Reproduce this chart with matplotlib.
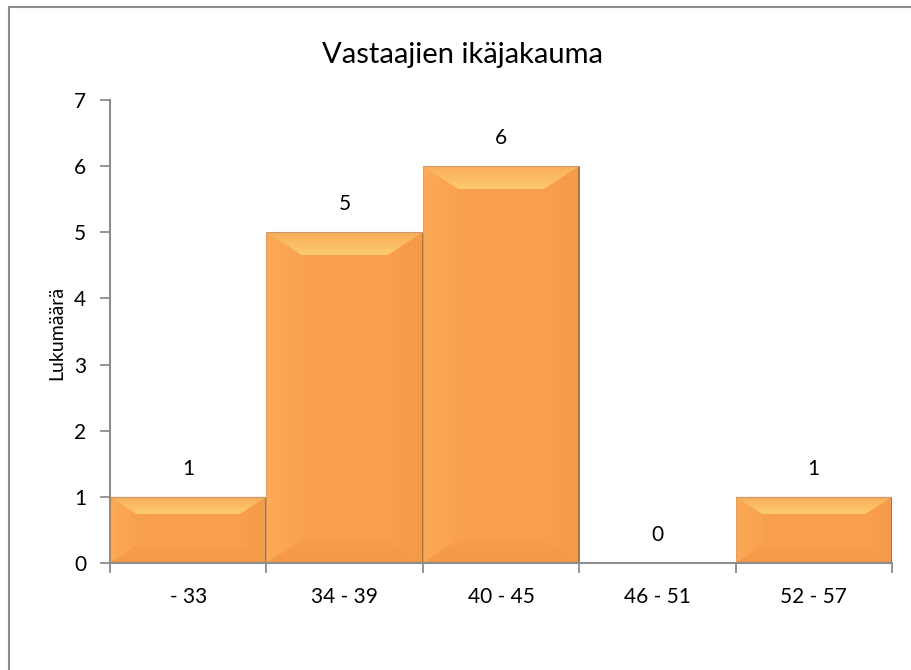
import matplotlib
matplotlib.use("Agg")
import matplotlib.pyplot as plt
from matplotlib.patches import Polygon, Rectangle
from matplotlib.colors import LinearSegmentedColormap
import numpy as np

categories = ["- 33", "34 - 39", "40 - 45", "46 - 51", "52 - 57"]
values = [1, 5, 6, 0, 1]
yticks = [0, 1, 2, 3, 4, 5, 6, 7]
title = "Vastaajien ikäjakauma"
ylabel = "Lukumäärä"

plt.rcParams['font.family'] = ['Lato', 'DejaVu Sans']

fig = plt.figure(figsize=(9.11, 6.70), dpi=100)
ax = fig.add_axes([110/911, 1-563/670, (892-110)/911, (563-100)/670])

x = np.arange(len(categories))
bars = ax.bar(x, values, width=1.0, color="#F9A04E", edgecolor="none", zorder=2)
ax.set_xlim(-0.5, len(categories)-0.5)
ax.set_ylim(0, 7)

fig.canvas.draw()
inv = ax.transData.inverted()
def px2data(dx, dy):
    p0 = inv.transform((0, 0))
    p1 = inv.transform((dx, dy))
    return p1[0]-p0[0], p1[1]-p0[1]

def grad_poly(pts, c_a, c_b, vertical=True, z=3):
    poly = Polygon(pts, closed=True, facecolor="none", edgecolor="none")
    ax.add_patch(poly)
    xs = [p[0] for p in pts]; ys = [p[1] for p in pts]
    cmap = LinearSegmentedColormap.from_list("g", [c_a, c_b])
    g = np.linspace(0, 1, 64)
    arr = g.reshape(-1, 1) if vertical else g.reshape(1, -1)
    im = ax.imshow(arr, cmap=cmap, extent=(min(xs), max(xs), max(ys), min(ys)) if vertical
                   else (min(xs), max(xs), min(ys), max(ys)),
                   origin="upper", aspect="auto", zorder=z, interpolation="bilinear")
    im.set_clip_path(poly)

for b in bars:
    h = b.get_height()
    if h <= 0:
        continue
    x0 = b.get_x(); x1 = x0 + b.get_width()
    y0 = 0; y1 = h
    bh = abs((ax.transData.transform((0, h)) - ax.transData.transform((0, 0)))[1])
    s = min(23, bh/3.8)
    bx, by = px2data(s*1.55, s)
    grad_poly([(x0, y1), (x0+bx, y1-by), (x0+bx, y0+by), (x0, y0)],
              "#FBAA58", "#F9A24F", vertical=False)
    grad_poly([(x1, y1), (x1-bx, y1-by), (x1-bx, y0+by), (x1, y0)],
              "#F9A04E", "#F59A45", vertical=False)
    grad_poly([(x0, y0), (x1, y0), (x1-bx, y0+by), (x0+bx, y0+by)],
              "#F49946", "#F79D4B", vertical=True)
    grad_poly([(x0, y1), (x1, y1), (x1-bx, y1-by), (x0+bx, y1-by)],
              "#FDCB70", "#FAAD59", vertical=True)
    ax.plot([x1, x1], [y0, y1], color="#9A6A45", lw=1.2, zorder=4, solid_capstyle="butt")
    ax.plot([x0, x1], [y1, y1], color="#C99A70", lw=0.8, zorder=4)
    ax.plot([x0, x0], [y0, y1], color="#D9A070", lw=0.6, zorder=4)

ax.set_ylim(0, 7)
ax.set_xlim(-0.5, len(categories)-0.5)

for b in bars:
    ax.annotate(str(int(b.get_height())), (b.get_x()+b.get_width()/2, b.get_height()),
                xytext=(0, 13), textcoords="offset points", ha="center", va="bottom",
                fontsize=15, color="#000000")

ax.set_xticks(x)
ax.set_xticklabels(categories, fontsize=15)
ax.set_xticks(np.arange(len(categories)+1)-0.5, minor=True)
ax.tick_params(axis="x", which="major", length=0, pad=17)
ax.tick_params(axis="x", which="minor", length=7, width=1.3, color="#8C8C8C", direction="out")
ax.set_yticks(yticks)
ax.set_yticklabels([str(t) for t in yticks], fontsize=15)
ax.tick_params(axis="y", length=7, width=1.3, color="#8C8C8C", direction="out", pad=10)

for sp in ["top", "right"]:
    ax.spines[sp].set_visible(False)
for sp in ["left", "bottom"]:
    ax.spines[sp].set_color("#8C8C8C")
    ax.spines[sp].set_linewidth(1.5)
    ax.spines[sp].set_zorder(5)

fig.text(462/911, 1-55/670, title, ha="center", va="center", fontsize=21)
fig.text(57/911, 1-333/670, ylabel, ha="center", va="center", rotation=90, fontsize=14)

fig.add_artist(Rectangle((8.5/911, -0.05), 1.1, 1-6.5/670+0.05, transform=fig.transFigure,
                         facecolor="none", edgecolor="#8C8C8C", linewidth=1.5))

fig.savefig("out.png", dpi=100)
